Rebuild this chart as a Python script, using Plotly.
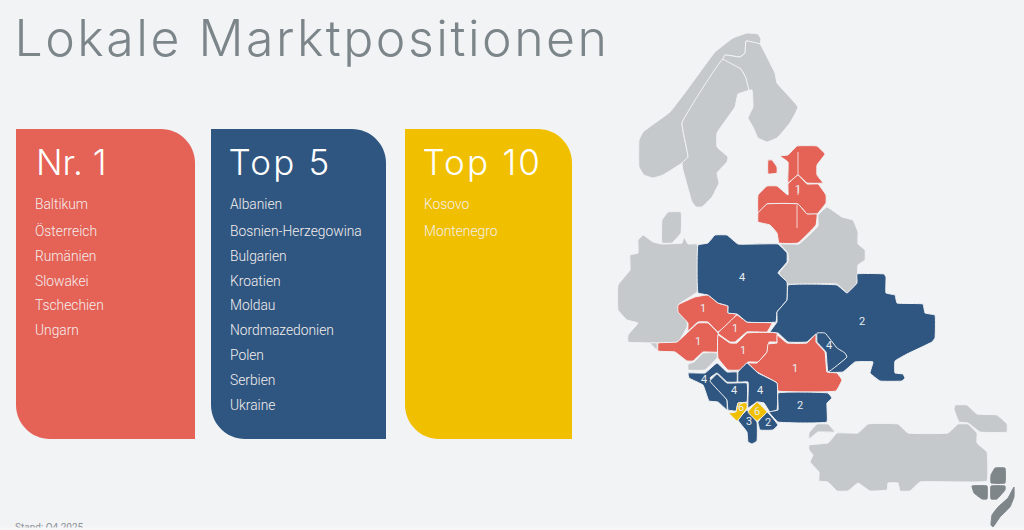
from plotly import graph_objects as go

BG_COLOUR = "#f2f3f5"
RED = "#e46256"
BLUE = "#2f5680"
YELLOW = "#f0c000"
GREY = "#c5c9cc"
LOGO_GREY = "#7f868a"
BORDER = "#f2f3f5"

TITLE = "Lokale Marktpositionen"
FOOTNOTE = "Stand: Q4 2025"

# Cards
CARD_HEADINGS = ["Nr. 1", "Top 5", "Top 10"]
CARD_COLOURS = [RED, BLUE, YELLOW]
NR1_ITEMS = ["Baltikum", "Österreich", "Rumänien", "Slowakei", "Tschechien", "Ungarn"]
TOP5_ITEMS = [
    "Albanien",
    "Bosnien-Herzegowina",
    "Bulgarien",
    "Kroatien",
    "Moldau",
    "Nordmazedonien",
    "Polen",
    "Serbien",
    "Ukraine",
]
TOP10_ITEMS = ["Kosovo", "Montenegro"]
CARD_ITEMS = [NR1_ITEMS, TOP5_ITEMS, TOP10_ITEMS]
CARD_LEFT = [16, 211, 405]
CARD_RIGHT = [195, 386, 572]
HEADING_CENTRE = [71, 279.5, 482]
ITEM_ROWS = [204, 231, 256, 281, 305, 330, 355, 380, 405]

# Map outlines
NORWAY = [(747,33),(758,34),(761,39),(760,44),(746,41),(745,53),(740,57),(725,55),(723,59),(682,123),(688,157),(682,163),(663,175),(653,178),(644,175),(639,167),(639,140),(643,132),(670,112),(687,90),(715,52),(733,38)]
SWEDEN = [(723,59),(741,69),(746,78),(749,90),(738,94),(735,107),(717,133),(717,147),(728,157),(727,162),(717,173),(719,183),(712,197),(702,207),(696,207),(692,202),(683,170),(682,163),(688,157),(682,123)]
FINLAND = [(746,41),(760,44),(767,57),(775,73),(777,83),(798,107),(790,123),(777,138),(767,142),(758,138),(753,127),(748,118),(753,107),(752,90),(749,90),(746,78),(741,69),(723,59),(725,55),(740,57),(745,53)]
ESTONIA = [(797,146),(817,146),(825,154),(817,165),(817,175),(823,183),(807,183),(798,175),(788,183),(788,162),(780,156),(788,155)]
SAAREMAA = [(768,160),(772,160),(777,167),(777,173),(768,174)]
LATVIA = [(767,186),(777,186),(788,195),(788,184),(798,175),(807,184),(818,184),(826,195),(826,203),(817,214),(807,214),(798,204),(767,204),(758,213),(758,195)]
LITHUANIA = [(767,204),(798,204),(807,214),(817,214),(816,225),(798,243),(779,243),(777,233),(770,225),(758,222),(758,213)]
DENMARK = [(668,212),(681,212),(681,233),(672,243),(662,243),(662,220)]
GERMANY = [(643,235),(653,242),(662,244),(682,243),(684,237),(688,244),(697,244),(697,292),(678,305),(687,318),(687,327),(678,342),(628,342),(628,335),(638,323),(627,320),(618,310),(618,285),(630,270),(630,255),(638,253),(638,240)]
POLAND = [(698,245),(708,243),(715,235),(727,235),(738,244),(778,244),(787,253),(787,262),(778,273),(787,282),(787,300),(777,312),(776,322),(747,322),(737,314),(728,313),(728,306),(718,303),(708,295),(698,293)]
BELARUS = [(818,226),(818,215),(827,207),(842,217),(853,220),(858,232),(858,244),(865,250),(865,260),(858,265),(857,283),(847,293),(837,284),(788,284),(779,273),(788,262),(788,253),(780,244),(799,244)]
UKRAINE = [(788,285),(837,285),(847,293),(857,283),(857,274),(884,274),(886,277),(886,293),(895,295),(897,303),(923,304),(925,313),(935,315),(935,338),(932,342),(907,354),(895,361),(895,373),(903,374),(905,378),(902,381),(880,381),(870,373),(873,362),(855,362),(843,372),(828,372),(826,352),(817,342),(816,334),(807,342),(788,342),(778,333),(770,332),(777,322),(777,312),(787,300)]
MOLDOVA = [(817,333),(825,333),(837,348),(845,353),(847,357),(828,372),(826,352),(817,342)]
SLOVAKIA = [(718,333),(737,315),(747,322),(772,323),(767,332),(747,332),(735,342),(730,342)]
CZECHIA = [(678,305),(695,297),(708,295),(718,303),(728,306),(728,313),(737,314),(718,332),(708,322),(698,322),(688,331),(688,323),(678,312)]
AUSTRIA = [(658,343),(677,342),(698,323),(708,323),(718,333),(718,352),(703,352),(693,361),(687,361),(675,352),(658,351)]
HUNGARY = [(718,335),(730,343),(737,343),(747,333),(777,333),(777,342),(769,342),(767,352),(758,362),(748,362),(740,370),(728,370),(718,358)]
ROMANIA = [(777,335),(787,343),(807,343),(816,334),(816,342),(825,352),(827,372),(837,373),(842,380),(836,391),(778,391),(777,383),(757,372),(748,363),(757,363),(767,352),(768,344),(777,343)]
SLOVENIA = [(688,364),(694,362),(703,353),(717,353),(717,358),(705,370),(688,370)]
SWISS_TIP = [(650,343),(657,343),(657,350)]
CROATIA = [(688,373),(705,373),(717,363),(727,372),(737,372),(737,382),(727,382),(717,373),(710,378),(727,400),(727,410),(718,402),(709,401),(703,385),(689,378)]
BOSNIA = [(717,374),(727,383),(747,383),(747,402),(738,403),(736,411),(728,410),(727,400),(710,381)]
SERBIA = [(738,372),(747,363),(758,373),(777,383),(777,410),(770,412),(764,403),(757,402),(748,408),(748,382),(738,382)]
BULGARIA = [(778,393),(828,393),(832,398),(827,403),(827,422),(778,422),(769,412),(778,410)]
KOSOVO = [(757,402),(767,412),(757,421),(748,412)]
MONTENEGRO = [(738,403),(747,403),(747,408),(737,421),(729,413),(736,412)]
ALBANIA = [(738,420),(747,410),(757,422),(757,441),(752,444),(748,442),(747,432)]
MACEDONIA = [(767,412),(778,425),(773,430),(760,430),(758,422)]
THRACE = [(817,424),(828,424),(835,432),(818,432),(809,439),(809,433)]
TURKEY = [(868,424),(898,424),(908,433),(948,433),(958,424),(968,424),(977,433),(977,443),(987,452),(987,481),(920,482),(910,491),(900,491),(898,483),(888,483),(887,490),(870,491),(858,483),(848,491),(837,491),(828,482),(819,481),(819,472),(810,462),(813,455),(809,450),(809,445),(828,443),(837,433),(858,433)]
GEORGIA = [(955,405),(967,405),(977,414),(997,415),(1007,424),(1007,432),(980,432),(968,423),(959,422),(954,409)]

GREY_AREAS = [NORWAY, SWEDEN, FINLAND, DENMARK, GERMANY, BELARUS, SLOVENIA, SWISS_TIP, THRACE, TURKEY, GEORGIA]
RED_AREAS = [ESTONIA, SAAREMAA, LATVIA, LITHUANIA, SLOVAKIA, CZECHIA, AUSTRIA, HUNGARY, ROMANIA]
BLUE_AREAS = [POLAND, UKRAINE, MOLDOVA, CROATIA, BOSNIA, SERBIA, BULGARIA, ALBANIA, MACEDONIA]
YELLOW_AREAS = [KOSOVO, MONTENEGRO]

# Rank labels on the map
RANK_LABELS = ["1", "4", "2", "4", "1", "1", "1", "1", "1", "4", "4", "4", "2", "6", "6", "3", "2"]
RANK_X = [798, 742, 862, 829, 795, 703, 735, 698, 743, 704, 734, 760, 800, 741, 757, 749, 768]
RANK_Y = [190, 278, 322, 346, 369, 309, 329, 342, 351, 380, 391, 391, 406, 408, 412, 422, 423]

# Thin lines inside the Baltic block
BALTIC_LINES = [[(798,152),(798,175)], [(798,187),(798,195)], [(797,205),(797,228)]]

# Logo
LOGO_TOP = [(995,468),(1005,468),(1005,483),(991,483),(991,475)]
LOGO_LEFT = [(972,486),(987,486),(987,499),(982,499),(974,493)]
LOGO_RIGHT = [(991,486),(1005,486),(1005,490),(997,499),(991,499)]
LOGO_SWOOSH = [(1014,487),(1014,497),(1010,507),(1000,517),(993,527),(991,525),(992,515),(998,507),(1008,498)]
LOGO_AREAS = [LOGO_TOP, LOGO_LEFT, LOGO_RIGHT, LOGO_SWOOSH]

# Installed fonts are narrower than the original one, so open up the big texts
PAGE_SCRIPT = """
document.body.style.margin = '0';
document.body.style.overflow = 'hidden';
document.querySelectorAll('.annotation-text').forEach(function (t) {
    var size = parseFloat(t.style.fontSize);
    if (size > 40) { t.style.letterSpacing = '2.5px'; }
    else if (size > 30 && t.textContent.indexOf('Top') === 0) { t.style.letterSpacing = '2.2px'; }
});
"""


def add_area(fig, points, colour, line_colour=BORDER):
    closed = points + points[:1]
    fig.add_trace(
        go.Scatter(
            x=[p[0] for p in closed],
            y=[p[1] for p in closed],
            mode="lines",
            fill="toself",
            fillcolor=colour,
            line={"color": line_colour, "width": 1, "shape": "spline", "smoothing": 0.25},
            hoverinfo="skip",
            showlegend=False,
        )
    )


def card_path(left, right, top=129, bottom=439, radius=34):
    bend = radius * 0.45
    return (
        f"M {left} {top} L {right - radius} {top} "
        f"C {right - bend} {top} {right} {top + bend} {right} {top + radius} "
        f"L {right} {bottom} L {left + radius} {bottom} "
        f"C {left + bend} {bottom} {left} {bottom - bend} {left} {bottom - radius} Z"
    )


fig = go.Figure()

for area in GREY_AREAS:
    add_area(fig, area, GREY)
for area in RED_AREAS:
    add_area(fig, area, RED)
for area in BLUE_AREAS:
    add_area(fig, area, BLUE)
for area in YELLOW_AREAS:
    add_area(fig, area, YELLOW)
for area in LOGO_AREAS:
    add_area(fig, area, LOGO_GREY, line_colour=LOGO_GREY)

for line in BALTIC_LINES:
    fig.add_trace(
        go.Scatter(
            x=[p[0] for p in line],
            y=[p[1] for p in line],
            mode="lines",
            line={"color": "#f6d5d0", "width": 1},
            hoverinfo="skip",
            showlegend=False,
        )
    )

fig.add_trace(
    go.Scatter(
        x=RANK_X,
        y=RANK_Y,
        mode="text",
        text=RANK_LABELS,
        textfont={"family": "Roboto", "size": 11, "color": "#e8edf2"},
        hoverinfo="skip",
        showlegend=False,
    )
)

# Footnote is cut off by the window edge in the original
fig.add_trace(
    go.Scatter(
        x=[15],
        y=[528],
        mode="text",
        text=[FOOTNOTE],
        textposition="middle right",
        textfont={"family": "Roboto", "size": 10, "color": "#8b9195"},
        hoverinfo="skip",
        showlegend=False,
    )
)

shapes = [
    {
        "type": "path",
        "path": card_path(left, right),
        "fillcolor": colour,
        "line": {"width": 0},
        "layer": "below",
    }
    for left, right, colour in zip(CARD_LEFT, CARD_RIGHT, CARD_COLOURS)
]
shapes.append(
    {
        "type": "rect",
        "x0": 0,
        "x1": 1024,
        "y0": 527.5,
        "y1": 530,
        "fillcolor": "#f8f8f9",
        "line": {"width": 0},
        "layer": "above",
    }
)

annotations = [
    {
        "x": 312,
        "y": 38,
        "text": TITLE,
        "xanchor": "center",
        "yanchor": "middle",
        "showarrow": False,
        "font": {"family": "Inter", "size": 50, "color": "#7c8589", "weight": 300},
    }
]
for left, centre, heading, items in zip(CARD_LEFT, HEADING_CENTRE, CARD_HEADINGS, CARD_ITEMS):
    annotations.append(
        {
            "x": centre,
            "y": 162,
            "text": heading,
            "xanchor": "center",
            "yanchor": "middle",
            "showarrow": False,
            "font": {"family": "Inter", "size": 35, "color": "#ffffff", "weight": 300},
        }
    )
    for row, item in zip(ITEM_ROWS, items):
        annotations.append(
            {
                "x": left + 17,
                "y": row,
                "text": item,
                "xanchor": "left",
                "yanchor": "middle",
                "showarrow": False,
                "font": {"family": "Roboto", "size": 13.8, "color": "#f4eeee", "weight": 300},
            }
        )

fig.update_layout(
    autosize=False,
    width=1024,
    height=530,
    margin={"l": 0, "r": 0, "t": 0, "b": 0},
    paper_bgcolor=BG_COLOUR,
    plot_bgcolor=BG_COLOUR,
    xaxis={"range": [0, 1024], "visible": False, "fixedrange": True},
    yaxis={"range": [530, 0], "visible": False, "fixedrange": True},
    shapes=shapes,
    annotations=annotations,
    showlegend=False,
)

fig.write_html("out.html", config={"displayModeBar": False}, post_script=PAGE_SCRIPT)
